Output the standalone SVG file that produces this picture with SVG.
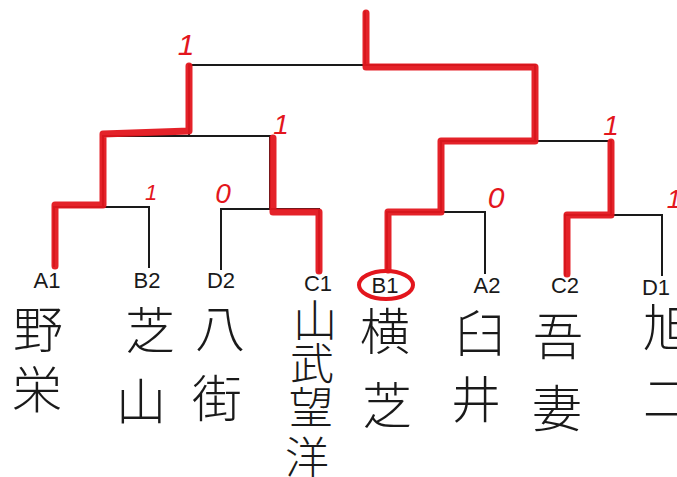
<svg xmlns="http://www.w3.org/2000/svg" width="677" height="477" viewBox="0 0 677 477">
<style>
.bk{fill:none;stroke:#1a1a1a;stroke-width:2;stroke-linecap:square}
.rd{fill:none;stroke:#e3161d;stroke-width:7;stroke-linejoin:round;stroke-linecap:round;opacity:0.95}
.lab{font-family:"Liberation Sans","DejaVu Sans",sans-serif;font-size:22px;fill:#1a1a1a;text-anchor:middle}
.nm{font-family:"Noto Sans CJK JP","Noto Sans CJK SC",sans-serif;font-size:50px;fill:#1a1a1a;text-anchor:middle;font-weight:300}
.c1{font-size:44px}
.sc{font-family:"Liberation Sans","DejaVu Sans",sans-serif;fill:#e3161d;text-anchor:middle;font-style:italic}
</style>
<rect width="677" height="477" fill="#ffffff"/>
<g id="connectors">
<path class="bk" d="M365,12 V65 M189,65 H535 M189,65 V136 M535,66 V141 M103,136 H270 M441,141 H611 M103,136 V207 M270,136 V209 M441,141 V212 M611,141 V215 M54,207 H149 M221,209 H319 M387,212 H485 M565,215 H662 M54,207 V266 M149,207 V267 M221,209 V269 M319,209 V272 M387,212 V272 M485,212 V273 M565,215 V275 M662,215 V275"/>
<path class="rd" d="M55,266 V205 H103 V134 L189,131 V66"/>
<path class="rd" d="M319,271 V212 H273 V138"/>
<path class="rd" d="M366,13 V67 H535 V141 H441 V212 H388 V270"/>
<path class="rd" d="M567,274 V215 H611 V142"/>
<ellipse cx="386" cy="285" rx="27" ry="14" fill="none" stroke="#e3161d" stroke-width="4"/>
</g>
<g id="scores">
<text class="sc" x="186" y="55" font-size="30">1</text>
<text class="sc" x="281" y="134" font-size="28">1</text>
<text class="sc" x="151" y="200" font-size="22">1</text>
<text class="sc" x="223" y="203" font-size="28">0</text>
<text class="sc" x="496" y="208" font-size="30">0</text>
<text class="sc" x="611" y="135" font-size="28">1</text>
<text class="sc" x="674" y="208" font-size="26">1</text>
</g>
<g id="A1"><text class="lab" x="47" y="288">A1</text><text class="nm"><tspan x="38" y="348">野</tspan><tspan x="37" y="408">栄</tspan></text></g>
<g id="B2"><text class="lab" x="147" y="288">B2</text><text class="nm"><tspan x="150" y="349">芝</tspan><tspan x="141" y="420">山</tspan></text></g>
<g id="D2"><text class="lab" x="221" y="288">D2</text><text class="nm"><tspan x="220" y="347">八</tspan><tspan x="217" y="417">街</tspan></text></g>
<g id="C1"><text class="lab" x="318" y="291">C1</text><text class="nm c1"><tspan x="315" y="337">山</tspan><tspan x="312" y="380">武</tspan><tspan x="311" y="424">望</tspan><tspan x="307" y="474">洋</tspan></text></g>
<g id="B1"><text class="lab" x="385" y="293">B1</text><text class="nm"><tspan x="385" y="350">横</tspan><tspan x="387" y="424">芝</tspan></text></g>
<g id="A2"><text class="lab" x="487" y="293">A2</text><text class="nm"><tspan x="480" y="352">臼</tspan><tspan x="476" y="418">井</tspan></text></g>
<g id="C2"><text class="lab" x="565" y="293">C2</text><text class="nm"><tspan x="558" y="355">吾</tspan><tspan x="557" y="427">妻</tspan></text></g>
<g id="D1"><text class="lab" x="656" y="295">D1</text><text class="nm"><tspan x="668" y="346">旭</tspan><tspan x="668" y="417">二</tspan></text></g>
</svg>
